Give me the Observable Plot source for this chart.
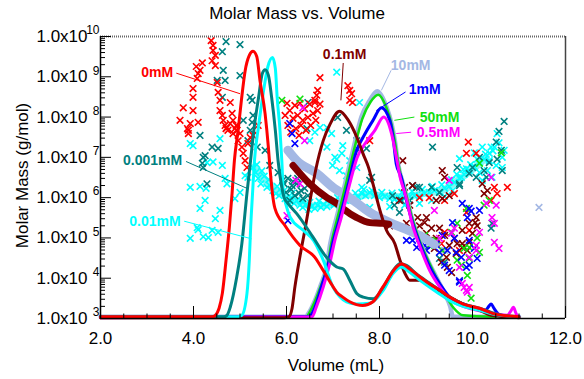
<!DOCTYPE html>
<html><head><meta charset="utf-8">
<script src="https://cdn.jsdelivr.net/npm/d3@7"></script>
<script src="https://cdn.jsdelivr.net/npm/@observablehq/plot@0.6"></script>
<style>body{margin:0;background:#fff;} #chart svg{font-family:"Liberation Sans",Arial,sans-serif;}</style>
</head><body><div id="chart"></div>
<script>
// ---------- axis ticks ----------
const xLabelTicks = [2, 4, 6, 8, 10, 12];
const xMinorTicks = [2.5, 3, 3.5, 4.5, 5, 5.5, 6.5, 7, 7.5, 8.5, 9, 9.5, 10.5, 11, 11.5];
const yTicks = [1e3, 1e4, 1e5, 1e6, 1e7, 1e8, 1e9, 1e10];
const yTickExp = ["3", "4", "5", "6", "7", "8", "9", "10"];
const yMinorMult = [2, 3, 4, 5, 6, 7, 8, 9];

// ---------- series names / colors ----------
const seriesNames = ["0mM", "0.001mM", "0.01mM", "0.1mM", "10mM", "1mM", "50mM", "0.5mM"];
const seriesColors = ["#ff0000", "#008080", "#00ffff", "#800000", "#a4b8e4", "#0000ff", "#10e010", "#ff00ff"];

// ---------- detector traces (Volume mL, value) ----------
const line0mM = [[2,1.1e3],[4.40,1.1e3],[4.47,1.2e3],[4.55,1.8e3],[4.62,4.2e3],[4.70,2.8e4],[4.77,1.8e5],[4.83,1.3e6],[4.88,8.4e6],[4.96,4.7e7],[5.03,2.6e8],[5.11,1.4e9],[5.20,3.4e9],[5.28,4.3e9],[5.36,3.2e9],[5.43,8e8],[5.54,1.2e8],[5.61,1.8e7],[5.65,4.7e6],[5.70,1.2e6],[5.75,5.5e5],[5.97,2e5],[6.29,6.5e4],[6.61,3.3e4],[6.79,1.55e4],[6.94,8e3],[7.08,4.5e3],[7.21,3.4e3],[7.36,2.6e3],[7.64,2.1e3],[7.86,2.6e3],[8.07,6e3],[8.37,1.9e4],[8.47,2.3e4],[8.65,1.7e4],[8.87,1.07e4],[9.08,7.2e3],[9.30,5e3],[9.51,3.4e3],[9.79,2.3e3],[10.15,1.8e3],[10.47,1.3e3],[10.8,1.15e3],[11.0,1.1e3]];
const line0001mM = [[2,1.1e3],[4.65,1.1e3],[4.72,1.2e3],[4.79,1.9e3],[4.93,1.07e4],[5.04,7.2e4],[5.15,1.3e6],[5.22,7e6],[5.30,5e7],[5.40,3.1e8],[5.48,1.2e9],[5.54,1.5e9],[5.61,1.1e9],[5.68,3.1e8],[5.76,4.7e7],[5.82,8e6],[5.90,1.8e6],[5.95,1e6],[6.03,7.2e5],[6.22,4e5],[6.57,1.05e5],[6.86,3.3e4],[7.08,1.9e4],[7.22,1.7e4],[7.36,8.9e3],[7.51,4.2e3],[7.65,3.4e3],[7.87,3.1e3],[8.08,6e3],[8.29,1.55e4],[8.44,2.3e4],[8.58,2.1e4],[8.79,1.3e4],[9.08,7.5e3],[9.30,5e3],[9.51,3.4e3],[9.80,2.3e3],[10.15,1.8e3],[10.5,1.3e3],[11.0,1.1e3]];
const line001mM = [[2,1.1e3],[4.95,1.1e3],[5.04,1.2e3],[5.15,4.2e3],[5.20,2.8e4],[5.23,1.9e5],[5.27,1.3e6],[5.31,8e6],[5.40,6e7],[5.50,4e8],[5.60,1.8e9],[5.70,3e9],[5.76,1.6e9],[5.80,3e8],[5.86,4.7e7],[5.90,8e6],[5.93,1.5e6],[6.0,6e5],[6.08,3.3e5],[6.36,1.55e5],[6.58,8.7e4],[6.79,2.8e4],[7.0,6e3],[7.15,3.4e3],[7.29,2.6e3],[7.51,2.3e3],[7.79,2.4e3],[8.08,5e3],[8.29,1.3e4],[8.47,1.9e4],[8.65,1.4e4],[8.87,8.9e3],[9.08,6e3],[9.30,4e3],[9.50,2.8e3],[9.80,2e3],[10.15,1.6e3],[10.5,1.25e3],[11.0,1.1e3]];
const line01mM = [[2,1.05e3],[5.95,1.05e3],[6.05,1.1e3],[6.12,1.8e3],[6.18,6e3],[6.29,3.5e4],[6.40,1.7e5],[6.51,9e5],[6.63,5e6],[6.79,2.6e7],[6.94,6.8e7],[7.14,1.4e8],[7.33,8.3e7],[7.51,3.2e7],[7.65,1.2e7],[7.76,5.8e6],[7.86,2.2e6],[8.01,4.8e5],[8.15,1.55e5],[8.33,7.2e4],[8.44,2.8e4],[8.55,1.3e4],[8.65,8.9e3],[8.87,8.9e3],[9.08,7.2e3],[9.37,4.2e3],[9.65,2.8e3],[9.94,1.9e3],[10.15,1.6e3],[10.4,1.2e3],[11.0,1.05e3]];
const line10mM = [[2,1.1e3],[6.40,1.1e3],[6.5,1.5e3],[6.58,2.3e3],[6.72,6e3],[6.86,1.9e4],[6.94,7.2e4],[7.08,3.3e5],[7.26,2.2e6],[7.43,1.5e7],[7.61,1e8],[7.79,2.6e8],[7.95,4.4e8],[8.15,1.8e8],[8.26,6.8e7],[8.33,2.6e7],[8.40,6.9e6],[8.55,1.5e6],[8.69,3.3e5],[8.83,1.05e5],[9.01,3.3e4],[9.22,1.07e4],[9.40,4.2e3],[9.52,2e3],[9.58,1.1e3],[11,1.1e3]];
const line50mM = [[2,1.1e3],[6.42,1.1e3],[6.52,1.6e3],[6.6,2.5e3],[6.74,6.5e3],[6.88,2e4],[6.96,7e4],[7.10,3.3e5],[7.28,2.2e6],[7.45,1.5e7],[7.63,9e7],[7.81,2.4e8],[7.97,3.6e8],[8.15,1.7e8],[8.26,6.5e7],[8.33,2.5e7],[8.41,6.5e6],[8.56,1.4e6],[8.70,3.2e5],[8.84,1e5],[9.02,3.2e4],[9.23,1e4],[9.41,4e3],[9.6,1.8e3],[9.8,1.2e3],[10.5,1.1e3]];
const line1mM = [[2,1.1e3],[6.45,1.1e3],[6.52,1.2e3],[6.61,1.9e3],[6.75,6e3],[6.90,2.3e4],[7.01,8.7e4],[7.15,3.3e5],[7.33,2.2e6],[7.51,1.5e7],[7.65,3.2e7],[7.86,8.3e7],[8.04,1.7e8],[8.22,8.3e7],[8.29,3.2e7],[8.36,6.9e6],[8.47,3.2e6],[8.58,8.5e5],[8.72,2.2e5],[8.87,7.2e4],[9.08,1.9e4],[9.30,7.2e3],[9.51,3.4e3],[9.80,2.3e3],[10.01,1.9e3],[10.15,1.6e3],[10.28,1.6e3],[10.35,2e3],[10.40,2.3e3],[10.46,1.8e3],[10.55,1.3e3],[10.65,1.1e3],[11,1.1e3]];
const line05mM = [[2,1.05e3],[6.55,1.1e3],[6.64,1.9e3],[6.79,6e3],[6.93,2.3e4],[7.04,8.7e4],[7.18,3.3e5],[7.36,2.2e6],[7.52,1e7],[7.69,2.2e7],[7.90,4.7e7],[8.09,1e8],[8.26,3.8e7],[8.35,1.2e7],[8.45,3e6],[8.55,1.26e6],[8.72,1.9e5],[8.90,4.9e4],[9.08,1.55e4],[9.30,6e3],[9.51,3e3],[9.80,2e3],[10.1,1.6e3],[10.5,1.3e3],[10.75,1.2e3],[10.82,1.5e3],[10.88,1.9e3],[10.93,1.4e3],[10.97,1.1e3],[11.0,1.05e3]];

// ---------- dense molar-mass bands ----------
const band10mM = [[6.03,1.5e7],[6.22,8.3e6],[6.65,4e6],[7.0,1.8e6],[7.36,1e6],[7.79,4.3e5],[8.22,2.4e5],[8.65,1.5e5],[8.97,9.8e4],[9.18,6.9e4]];
const band01mM = [[6.14,6.3e6],[6.50,2.2e6],[6.87,1e6],[7.08,7.2e5],[7.21,5.4e5],[7.51,3.2e5],[7.79,2.4e5],[8.07,2.3e5],[8.2,2.2e5]];
const band001mM = [[5.30,5.6e6],[5.58,2.4e6],[5.90,1.2e6],[6.20,8e5],[6.60,6.2e5],[7.00,7e5],[7.40,9e5],[7.75,1.2e6],[8.10,1.1e6],[8.50,1.05e6],[9.00,1.3e6],[9.40,1.6e6],[9.70,2.8e6],[10.00,5e6],[10.30,1e7]];

// ---------- molar mass points (Volume mL, g/mol) ----------
const mm0mM = [[4.38,7.9e9],[4.42,6e9],[4.42,4.5e9],[4.47,3.4e9],[4.40,2.5e9],[4.47,1.9e9],[4.19,2.2e9],[4.14,1.45e9],[4.10,1.2e9],[4.08,9.1e8],[4.51,7.2e8],[4.06,1.8e9],[3.99,5.1e8],[3.99,3.1e8],[3.78,1.7e8],[3.99,1.45e8],[4.10,7.4e7],[3.93,6.9e7],[3.89,4.7e7],[3.71,8.3e7],[3.87,5.2e7],[3.89,3.9e7],
[4.53,4.1e8],[4.57,2.6e8],[4.57,1.45e8],[4.64,8.3e7],[4.72,5.5e7],[4.79,6.9e7],[4.83,1.23e8],[4.85,8.3e7],[4.79,2.3e8],[4.94,4.7e7],[4.96,2.6e7],[5.04,1.8e7],[5.07,1.26e7],[5.11,8.3e6],[5.15,5.6e6],[5.22,3.1e7],[5.39,6.2e7],[4.85,3.9e7],[5.00,3.9e7],[4.68,6.2e7],[4.74,4.7e7],[4.92,6.2e7],[4.62,1.1e8],[4.70,5.2e7],[4.89,5.2e7],[5.17,2.2e7],[5.28,3.5e7],
[6.07,1.45e8],[6.18,1.95e8],[6.29,2.2e8],[6.39,1.6e8],[6.50,2.1e8],[6.61,2.6e8],[6.14,9.3e7],[6.24,1.1e8],[6.35,8.3e7],[6.46,9.8e7],[6.57,1.23e8],[6.03,6.2e7],[6.20,5.2e7],[6.31,6.2e7],[6.42,4.7e7],[6.52,6.2e7],[6.63,8.3e7],[6.09,4.2e7],[6.27,3.5e7],[5.97,1.1e8],[6.67,1.45e8],[6.01,2.2e8],[6.72,2.1e8],
[6.72,9.5e8],[6.67,4.6e8],[6.65,3.5e8],[7.32,6e8],[7.36,4.6e8],[7.36,2.6e8],[7.40,3.8e8],[7.42,2.3e8],[6.61,2.3e8],[7.79,2.6e7],
[8.86,1e6],[9.07,1e6],[9.40,8.5e5],[9.61,1.26e6],[9.87,1.26e7],[10.08,1.26e7],[9.91,2.4e7],[10.47,1.8e6],[10.75,1.8e6],[10.53,1.26e6],[10.40,8.5e5],[9.87,4.3e5],[9.40,1.38e5],[9.33,7.2e4],[9.93,1.55e5],[9.72,4.9e4]];
const mm0001mM = [[4.70,7.5e9],[5.00,6.3e9],[4.62,4.2e9],[4.64,1.45e9],[4.68,8.1e8],[5.00,1.07e9],[4.51,8.1e8],[5.22,3.1e8],[5.26,2.6e8],[4.62,3.1e8],[5.07,8.3e7],[5.28,1.1e8],[5.22,4.7e7],[5.17,2.6e7],[5.37,1.8e7],[4.53,1.66e7],[4.40,1.8e7],[4.14,3.5e7],[4.21,1e7],[4.19,7.1e6],[4.25,1.1e7],[4.21,5.6e6],[4.29,2.2e6],[5.26,7.4e7],[6.44,5.2e7],[7.10,9.8e7],[7.29,4.7e7],[7.51,2.6e7],[7.51,1.66e7],[7.83,3.2e6],[6.46,2.3e8],[7.72,1.66e7],
[5.92,2.7e6],[6.03,3e6],[6.12,2e6],[6.22,2.2e6],[6.31,1.5e6],[6.39,1.7e6],[5.99,1.35e6],[6.18,1.12e6],[6.35,9.5e5],[6.07,8.5e5],[6.46,1.12e6],[6.24,3e6],[5.82,4.2e6],[5.54,1.5e7],[5.64,6.3e6],[5.95,2.2e6],[6.10,1.6e6],[6.27,1.3e6],[6.14,2.5e6],
[8.28,1.12e6],[8.47,8.5e5],[8.80,1.8e6],[8.86,1.8e6],[9.12,1.8e6],[9.29,1.35e6],[9.72,2e6],[10.40,1.74e5],[10.42,2.3e5],[9.29,3.1e4],[9.40,2.5e4],[9.14,1.8e7],[10.68,7.8e7],[10.57,4.4e7],[10.51,2.4e7],[10.62,1.5e7],[10.0,5.6e6],[9.72,2.2e6],[9.93,4e6],[10.08,3.2e6],[10.30,3.2e6],[10.64,4.7e6],[10.15,1e7],[10.36,7.4e6],[10.25,4.7e6],[10.53,9e6],[8.43,4.3e5],[8.32,6.5e5],[8.65,8.5e5],[7.79,2.7e6],[8.71,2e6],[9.67,5.6e6]];
const mm001mM = [[3.93,2.2e7],[3.93,1.8e6],[4.14,1.9e6],[4.27,1.7e6],[4.14,5.4e5],[4.10,1.6e5],[3.93,9.8e4],[4.21,1.07e5],[4.32,1.02e5],[4.08,1.8e5],[4.42,7.7e6],[4.62,6.3e6],[4.68,3e6],[4.72,2.2e6],[5.00,1.35e6],[4.89,9.5e5],[4.25,8.5e5],[4.57,4.8e5],[4.47,3e5],[4.53,1.38e5],[5.17,3.2e6],[4.29,7.4e6],[4.57,2.9e7],[3.99,1.95e7],[4.40,1.55e5],[5.11,3.5e6],
[7.08,1.3e9],[7.57,2.3e8],[6.87,5.5e7],[6.97,3.9e7],[6.87,1.8e7],[7.04,1e7],[7.21,1.95e7],[7.19,1.26e7],[7.36,8.3e6],[7.51,5.6e6],[6.72,5.5e7],[6.50,2.6e7],[6.99,6.3e6],[7.14,4.7e6],[7.29,3.5e6],[7.08,9e6],[6.61,4.2e7],[7.62,1.8e6],
[5.28,5.6e6],[5.34,4.2e6],[5.39,3e6],[5.45,2.2e6],[5.52,3.4e6],[5.58,1.8e6],[5.64,2e6],[5.71,1.5e6],[5.77,1.26e6],[5.84,1.12e6],[5.90,1.35e6],[5.97,9.5e5],[6.03,8.5e5],[6.09,1e6],[6.16,7.2e5],[6.22,8.5e5],[6.29,6.5e5],[6.35,5.7e5],[6.42,6.8e5],[6.48,5.1e5],[6.54,6e5],[6.61,5.4e5],[6.67,6.5e5],[6.74,5.7e5],[6.80,6.8e5],[6.87,6e5],[6.93,7.2e5],[7.02,6.5e5],[7.10,7.6e5],[7.19,6.8e5],[7.27,8.5e5],[7.36,9.5e5],[7.44,8.5e5],[7.53,1.07e6],[7.62,1.26e6],[7.70,1.12e6],[7.79,1.35e6],[7.89,1.12e6],[8.00,1e6],[8.11,1.07e6],[8.22,9.5e5],[8.32,9e5],[8.43,1e6],[8.54,9.5e5],[8.65,1.07e6],[8.75,1.12e6],[8.86,1.07e6],[8.97,1.26e6],[9.07,1.35e6],[9.18,1.5e6],[9.29,1.35e6],[9.40,1.7e6],[9.50,1.9e6],[9.61,2.4e6],[9.72,3e6],[9.82,3.8e6],[9.93,4.7e6],[10.04,5.8e6],[10.15,7.4e6],[10.25,9e6],[10.36,1.26e7],[10.47,1.8e7],[10.57,2.3e7],[10.53,3.9e7],[10.40,1.8e7],[10.21,1.8e7],[10.04,1.3e7],[9.72,9.3e6],[9.87,5.2e6],[9.76,3.2e6],[10.21,2.7e6],[10.42,3.2e6],[10.64,5.6e6],[10.51,6.3e6],[10.36,8.3e6],[10.15,4.2e6],[10.32,4.7e6],[10.64,1e7],[10.68,1.5e7],[9.57,1.5e6],[9.40,1.07e6],[9.12,8.5e5],[8.86,7.2e5],[8.54,6.5e5],[8.22,6e5],[7.79,5.7e5],
[5.36,6.6e6],[5.47,4.6e6],[5.62,2.8e6],[5.80,1.9e6],[5.95,1.5e6],[6.12,1.3e6],[6.33,8.2e5],[6.50,7.6e5],[6.70,8.2e5],[6.90,9e5],[7.10,1e6],[7.30,1.1e6],[7.48,1.3e6],[7.66,1.6e6],[7.84,1.5e6],[8.05,1.35e6],[8.27,1.3e6],[8.48,1.35e6],[8.70,1.45e6],[8.92,1.6e6],[9.14,1.9e6],[9.34,2.1e6],[9.55,2.8e6],[9.66,3.8e6],[9.80,5e6],[9.96,6.6e6],[10.10,9e6],[10.28,1.2e7],[10.44,1.45e7]];
const mm01mM = [[8.50,8.3e6],[9.35,4.7e6],[9.40,3.2e6],[8.82,3.2e5],[9.22,8.5e5],[9.44,3.3e4],[9.65,4.1e4],[10.0,1.3e5],[9.78,7.2e4],[8.43,8.5e5],[8.65,6.5e5],[9.01,3.2e5],[8.58,2.3e5],[10.08,3.2e5],[10.06,2.4e5],[9.93,2.3e5],[9.78,1.55e5],[9.67,7.2e4],[9.50,6.5e4],[9.46,1.86e4],[9.55,1.38e4],[9.22,9.8e4],[9.07,8.7e4],[9.01,1.3e5],[9.29,1.74e5],[9.78,5.8e4],[9.93,7.8e4],[9.35,9.5e5],[9.50,1.12e6],[8.71,2e6],[8.54,1.8e6],[10.32,1.5e6],[10.25,1.26e6],[10.21,2.2e6],[8.86,2e5],[9.12,1.74e5],[9.40,1.15e5],[9.61,9.8e4],[9.89,4.9e4],[10.10,2e5],[9.18,5.5e4],[9.33,2.5e4],[8.97,2.4e5],[8.75,1.55e5],[8.22,2e5],[8.32,2.1e5]];
const mm10mM = [[11.43,5.7e5],[9.07,7.8e4],[9.25,6.2e4],[9.40,4.9e4]];
const mm50mM = [[5.90,2.6e8],[6.29,2.8e8],[9.67,2.3e5],[9.82,5.5e4],[9.93,5.8e4],[10.15,4.4e4],[10.10,1e5],[9.76,2.1e4],[9.89,1.17e4],[9.97,3.2e3],[10.36,8.5e5],[10.25,6.5e5],[9.07,6.5e4],[9.35,4.9e4],[9.67,2.8e4],[9.93,3.1e4],[9.87,5.4e5],[10.62,1.3e7],[10.15,7.1e6],[9.22,8.7e4],[9.55,1.38e5],[8.97,1.15e5]];
const mm1mM = [[9.93,5.4e5],[9.97,4.6e5],[9.57,2.4e5],[9.61,9.8e4],[9.93,2.1e4],[9.72,8e3],[10.10,3.1e4],[9.65,4.4e4],[9.12,6.5e4],[9.46,4.9e4],[8.58,8.7e4],[8.80,5.8e4],[9.01,4.9e4],[9.40,2.1e4],[9.50,1.55e4],[9.72,8.7e3],[9.87,1.86e4],[9.93,8.7e4],[9.78,7.2e5],[9.89,3.2e5],[6.07,6.9e7],[6.18,2.2e7],[6.12,3.9e7],[6.03,2.7e5],[8.86,9.8e4],[9.22,6.9e4],[9.35,1.15e5],[8.97,6.5e4],[9.76,3.3e4],[10.04,5.5e4],[9.29,4.4e4],[8.71,8.7e4],[10.15,4.8e5]];
const mm05mM = [[9.50,2.7e6],[10.42,3.2e5],[10.57,5.5e4],[10.47,7.8e4],[10.47,2.3e5],[9.82,5.9e3],[9.89,4.5e3],[9.93,3.3e4],[10.08,6.5e4],[9.72,1.86e4],[9.18,4.8e5],[9.55,1.3e5],[10.30,7.2e5],[10.51,6.5e5],[9.78,7.4e3],[9.87,5e3],[9.93,5.9e3],[10.08,4.9e4],[6.35,1.7e8],[6.39,2.6e7],[6.01,3.6e5],[6.29,2.2e6],[10.40,3.2e6],[10.15,1.38e5],[9.29,9.8e4],[9.61,1.74e5],[6.20,2.7e6]];

// ---------- labels & leader lines ----------
const labelX = [3.22, 3.12, 3.17, 7.25, 8.67, 8.97, 9.29, 9.27];
const labelY = [1.26e9, 8.3e6, 2.6e5, 3.5e9, 1.9e9, 4.8e8, 1.0e8, 4.1e7];
const leaderX1 = [3.63, 3.84, 3.80, 7.22, 8.25, 8.56, 8.75, 8.68];
const leaderY1 = [1.23e9, 7.9e6, 2.6e5, 2.2e9, 1.45e9, 4.2e8, 1.0e8, 4.2e7];
const leaderX2 = [5.0, 5.15, 5.25, 7.17, 8.04, 7.93, 8.32, 8.36];
const leaderY2 = [3.8e8, 1.7e6, 9.5e4, 2.6e8, 4.6e8, 1.45e8, 8.3e7, 3.9e7];

const labels = seriesNames.map((name, i) => ({name, color: seriesColors[i], x: labelX[i], y: labelY[i], x1: leaderX1[i], y1: leaderY1[i], x2: leaderX2[i], y2: leaderY2[i]}));
const yMinorTicks = yTicks.slice(0, -1).flatMap(d => yMinorMult.map(m => d * m));

const FONT = "Liberation Sans, Arial, sans-serif";
const px = d => d[0], py = d => d[1];
const pts = (data, color) => Plot.dot(data, {x: px, y: py, symbol: "times", r: 3.1, stroke: color, strokeWidth: 1.6});
const ln = (data, color, w) => Plot.line(data, {x: px, y: py, stroke: color, strokeWidth: w, curve: "monotone-x"});

const chart = Plot.plot({
  width: 584, height: 379,
  marginLeft: 100, marginRight: 19, marginTop: 36, marginBottom: 61,
  x: {domain: [2, 12], axis: null},
  y: {type: "log", domain: [1e3, 1e10], axis: null},
  style: {fontFamily: FONT, background: "#fff", overflow: "visible"},
  marks: [
    // dense cyan band underlay + scatter
    Plot.line(band001mM, {x: px, y: py, stroke: "#7ff5f5", strokeWidth: 7, curve: "monotone-x"}),
    pts(mm001mM, seriesColors[2]),
    pts(mm0001mM, seriesColors[1]),
    pts(mm0mM, seriesColors[0]),
    pts(mm10mM, seriesColors[4]),
    pts(mm01mM, seriesColors[3]),
    pts(mm50mM, seriesColors[6]),
    pts(mm1mM, seriesColors[5]),
    pts(mm05mM, seriesColors[7]),
    // dense bands
    Plot.line(band10mM, {x: px, y: py, stroke: seriesColors[4], strokeWidth: 9, curve: "monotone-x"}),
    Plot.line(band01mM, {x: px, y: py, stroke: seriesColors[3], strokeWidth: 7, curve: "monotone-x"}),
    // traces
    ln(line10mM, seriesColors[4], 4.5),
    ln(line50mM, seriesColors[6], 2.5),
    ln(line1mM, seriesColors[5], 3),
    ln(line05mM, seriesColors[7], 3),
    ln(line01mM, seriesColors[3], 3),
    ln(line001mM, seriesColors[2], 3),
    ln(line0001mM, seriesColors[1], 3),
    ln(line0mM, seriesColors[0], 3),
    // leaders + labels
    Plot.link(labels, {x1: "x1", y1: "y1", x2: "x2", y2: "y2", stroke: "color", strokeWidth: 1}),
    Plot.text(labels, {x: "x", y: "y", text: "name", fill: "color", fontSize: 14, fontWeight: "bold", fontFamily: FONT}),
    // frame
    Plot.ruleY([1e10], {stroke: "#666", strokeWidth: 2, strokeDasharray: "1 1"}),
    Plot.ruleX([12], {stroke: "#444", strokeWidth: 1.5}),
    Plot.ruleX([2], {stroke: "#000", strokeWidth: 1.5}),
    Plot.ruleY([1e3], {stroke: "#000", strokeWidth: 1.5}),
    // ticks
    Plot.ruleX(xLabelTicks, {x: d => d, y1: 1e3, y2: 1e3, insetTop: -12, stroke: "#000"}),
    Plot.ruleX(xMinorTicks, {x: d => d, y1: 1e3, y2: 1e3, insetTop: -4.5, stroke: "#000"}),
    Plot.ruleY(yTicks, {y: d => d, x1: 2, x2: 2, insetRight: -11, stroke: "#000"}),
    Plot.ruleY(yMinorTicks, {y: d => d, x1: 2, x2: 2, insetRight: -5, stroke: "#000"}),
    // tick labels
    Plot.text(xLabelTicks, {x: d => d, text: d => d.toFixed(1), frameAnchor: "bottom", lineAnchor: "middle", dy: 20, fontSize: 17, fill: "#000", fontFamily: FONT}),
    Plot.text(yTicks, {y: d => d, text: () => "1.0x10", frameAnchor: "left", textAnchor: "end", lineAnchor: "middle", dx: -13, fontSize: 17, fill: "#000", fontFamily: FONT}),
    Plot.text(yTicks, {y: d => d, text: (d, i) => yTickExp[i], frameAnchor: "left", textAnchor: "end", lineAnchor: "middle", dx: -1, dy: -6, fontSize: 12, fill: "#000", fontFamily: FONT}),
    // titles
    Plot.text(["Molar Mass vs. Volume"], {text: d => d, frameAnchor: "top", textAnchor: "middle", lineAnchor: "middle", dy: -23, dx: -36, fontSize: 17, fill: "#000", fontFamily: FONT}),
    Plot.text(["Volume (mL)"], {text: d => d, frameAnchor: "bottom", textAnchor: "middle", lineAnchor: "middle", dy: 47, dx: 3, fontSize: 17, fill: "#000", fontFamily: FONT}),
    Plot.text(["Molar Mass (g/mol)"], {text: d => d, frameAnchor: "left", textAnchor: "middle", lineAnchor: "middle", dx: -78, dy: -2, rotate: -90, fontSize: 17, fill: "#000", fontFamily: FONT})
  ]
});
document.getElementById("chart").append(chart);
</script>
</body></html>
